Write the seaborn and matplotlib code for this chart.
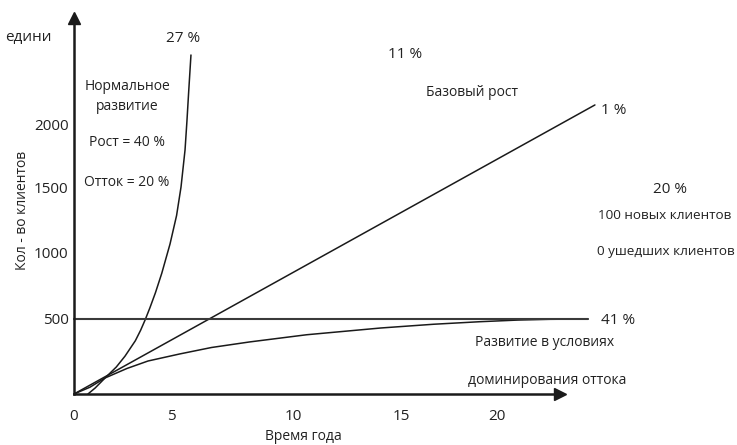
import numpy as np
import pandas as pd
import matplotlib
matplotlib.use('Agg')
import matplotlib.pyplot as plt
import seaborn as sns

norm_x = [0.66, 1.0, 1.47, 2.0, 2.41, 2.9, 3.15, 3.36, 3.59, 3.85, 4.15, 4.54, 4.85, 5.06, 5.25, 5.34, 5.42, 5.53]
norm_y = [0, 40, 107, 180, 252, 355, 425, 493, 575, 675, 805, 1000, 1190, 1380, 1627, 1820, 2010, 2260]

base_x = [0, 24.63]
base_y = [0, 1927]

churn_x = [0, 0.75, 1.47, 2.5, 3.5, 5.0, 6.5, 8.3, 11, 14.5, 17, 19.2, 21, 22.5, 24.3]
churn_y = [0, 45, 107, 170, 220, 267, 310, 347, 395, 440, 465, 482, 493, 498, 500]

level_x = [0, 24.3]
level_y = [500, 500]

# подписи осей (схема нарисована от руки, поэтому деления неравномерные)
xtick_pos = [0, 4.59, 10.35, 15.5, 20]
xtick_lab = ['0', '5', '10', '15', '20']
ytick_pos = [500, 940, 1375, 1795]
ytick_lab = ['500', '1000', '1500', '2000']

W, H = 737, 445

sns.set_style('white')
plt.rcParams['font.family'] = ['Open Sans', 'DejaVu Sans']
plt.rcParams['axes.unicode_minus'] = False

fig = plt.figure(figsize=(W / 100, H / 100), dpi=100)
ax = fig.add_axes([74 / W, (H - 394) / H, (560 - 74) / W, (394 - 18) / H])
ax.set_xlim(0, (560 - 74) / 21.15)
ax.set_ylim(0, (394 - 18) / 0.15)

ink = '#1a1a1a'
sns.lineplot(x=norm_x, y=norm_y, ax=ax, color=ink, lw=1.1, clip_on=False)
sns.lineplot(x=base_x, y=base_y, ax=ax, color=ink, lw=1.1, clip_on=False)
sns.lineplot(x=churn_x, y=churn_y, ax=ax, color=ink, lw=1.1, clip_on=False)
sns.lineplot(x=level_x, y=level_y, ax=ax, color='#3a3a3a', lw=1.5, clip_on=False)

# оси со стрелками
for s in ['top', 'right']:
    ax.spines[s].set_visible(False)
for s in ['left', 'bottom']:
    ax.spines[s].set_color(ink)
    ax.spines[s].set_linewidth(1.8)
ax.plot(1, 0, '>', color=ink, ms=8, transform=ax.transAxes, clip_on=False)
ax.plot(0, 1, '^', color=ink, ms=8, transform=ax.transAxes, clip_on=False)

ax.set_xticks(xtick_pos, xtick_lab)
ax.set_yticks(ytick_pos, ytick_lab)
ax.tick_params(axis='x', direction='out', length=4.5, width=1, color=ink,
               pad=6, labelsize=11, labelcolor='#222222')
ax.tick_params(axis='y', length=0, pad=4, labelsize=11, labelcolor='#222222')


def txt(xp, yp, s, size=10, ha='center', rot=0):
    fig.text(xp / W, 1 - yp / H, s, fontsize=size, ha=ha, va='center',
             color='#222222', rotation=rot)


txt(303, 437, 'Время года')
txt(23, 210, 'Кол - во клиентов', rot=90)

txt(5, 38, 'едини', 11, ha='left')
txt(183, 38, '27 %', 11)
txt(127, 86, 'Нормальное')
txt(127, 106, 'развитие')
txt(127, 143, 'Рост = 40 %')
txt(127, 182, 'Отток = 20 %')
txt(405, 55, '11 %', 11)
txt(472, 92, 'Базовый рост')
txt(601, 110, '1 %', 11, ha='left')
txt(670, 190, '20 %', 11)
txt(665, 216, '100 новых клиентов', 9.7)
txt(666, 252, '0 ушедших клиентов', 9.7)
txt(601, 321, '41 %', 11, ha='left')
txt(545, 343, 'Развитие в условиях')
txt(547, 380, 'доминирования оттока')

fig.savefig('out.png', dpi=100)
